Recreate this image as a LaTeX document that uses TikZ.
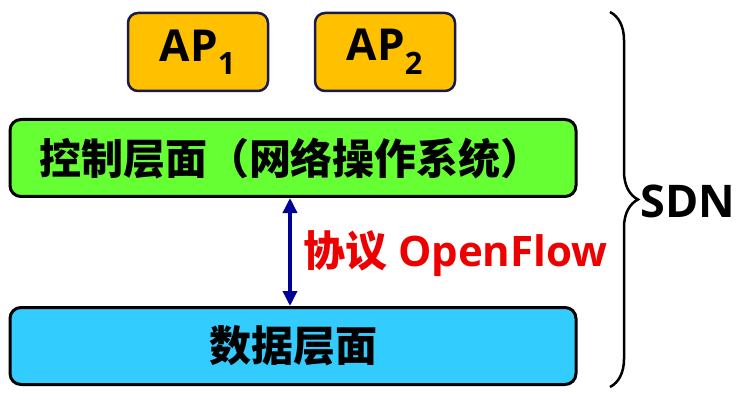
\documentclass[tikz,border=0pt]{standalone}
\usepackage{fontspec}
\setmainfont{Open Sans}
\newfontfamily\cjk{Noto Sans CJK SC}
\usetikzlibrary{decorations.pathreplacing,arrows.meta}
\definecolor{apfill}{HTML}{FFC000}
\definecolor{apdraw}{HTML}{1A1A4A}
\definecolor{ctrlfill}{HTML}{66FF33}
\definecolor{datafill}{HTML}{33CCFF}
\definecolor{arrowblue}{HTML}{000099}
\definecolor{protored}{HTML}{EE0000}
\tikzset{
  apbox/.style={draw=apdraw, fill=apfill, line width=2.5pt, rounded corners=10pt,
    minimum width=140pt, minimum height=78pt, inner sep=0pt,
    font=\fontsize{44}{48}\selectfont\bfseries},
  layerbox/.style={draw=black, line width=3pt, rounded corners=11pt,
    minimum width=566pt, minimum height=77pt, inner sep=0pt,
    font=\fontsize{42}{46}\selectfont\bfseries\cjk},
  protoarrow/.style={draw=arrowblue, line width=3.5pt,
    {Triangle[length=15pt,width=14pt]}-{Triangle[length=15pt,width=14pt]}},
  bracestyle/.style={draw=black, line width=2.5pt,
    decorate, decoration={brace, amplitude=28pt}},
  plaintext/.style={inner sep=0pt, font=\fontsize{42}{46}\selectfont\bfseries}
}
\begin{document}
\begin{tikzpicture}[x=1pt,y=-1pt]
\useasboundingbox (0,0) rectangle (742,401);
\node[apbox] (ap1) at (198,52) {AP$_{\mathbf 1}$};
\node[apbox] (ap2) at (385,52) {AP$_{\mathbf 2}$};
\node[layerbox, fill=ctrlfill] (ctrl) at (293,158) {\hspace*{-4pt}控制层面（网络操作系统）};
\node[layerbox, fill=datafill] (data) at (293,346) {数据层面};
\draw[protoarrow] (ctrl.south -| 290,0) -- (data.north -| 290,0);
\node[plaintext, text=protored, anchor=west] (proto) at (303,254) {{\cjk 协议} OpenFlow};
\coordinate (btop) at (610,12);
\coordinate (bbot) at (610,387);
\draw[bracestyle] (btop) -- (bbot);
\node[plaintext, anchor=west, font=\fontsize{45}{49}\selectfont\bfseries] (sdn) at (640,201) {SDN};
\end{tikzpicture}
\end{document}
